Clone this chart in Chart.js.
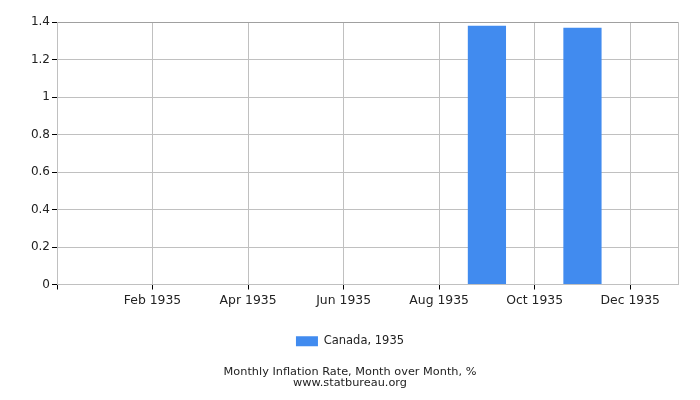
<!DOCTYPE html>
<html>
<head>
<meta charset="utf-8">
<script src="https://cdn.jsdelivr.net/npm/chart.js@4/dist/chart.umd.min.js"></script>
<style>
  html, body { margin: 0; padding: 0; background: #fff; }
  #wrap { width: 700px; height: 400px; }
</style>
</head>
<body>
<div id="wrap"><canvas id="myChart"></canvas></div>
<script>
// Chart data setup
const months = ["", "Jan 1935", "Feb 1935", "Mar 1935", "Apr 1935", "May 1935", "Jun 1935",
  "Jul 1935", "Aug 1935", "Sep 1935", "Oct 1935", "Nov 1935", "Dec 1935", ""];
const canada1935 = [null, null, null, null, null, null, null, null, null, 1.38, null, 1.37, null, null];
const yTicks = [0, 0.2, 0.4, 0.6, 0.8, 1, 1.2, 1.4];

const ctx = document.getElementById("myChart");
Chart.defaults.font.family = "DejaVu Sans";
Chart.defaults.color = "#222";

const data = {
  labels: months,
  datasets: [
    {
      label: "Canada, 1935",
      data: canada1935,
      backgroundColor: "#418bef",
      borderWidth: 0,
      categoryPercentage: 0.8,
      barPercentage: 1.0,
    },
  ],
};

// only every second month gets a gridline / label
const shown = (i) => i % 2 === 0 && i < 13;

const options = {
  responsive: true,
  maintainAspectRatio: false,
  animation: false,
  layout: {
    padding: { top: 22, right: 22, left: 22, bottom: 10 },
  },
  plugins: {
    legend: {
      position: "bottom",
      labels: {
        boxWidth: 22,
        boxHeight: 10,
        font: { size: 11.5 },
        padding: 10,
      },
    },
    title: {
      display: true,
      position: "bottom",
      text: "www.statbureau.org",
      font: { size: 11.3, weight: "normal" },
      padding: 0,
    },
    subtitle: {
      display: true,
      position: "bottom",
      text: "Monthly Inflation Rate, Month over Month, %",
      font: { size: 11.3 },
      padding: { top: 8, bottom: -2 },
    },
    tooltip: { enabled: false },
  },
  scales: {
    x: {
      offset: false,
      border: { color: "#c0c0c0" },
      grid: {
        offset: false,
        color: (c) => (shown(c.index) || c.index === 13 ? "#c0c0c0" : "rgba(0,0,0,0)"),
        tickColor: (c) => (shown(c.index) ? "#000" : "rgba(0,0,0,0)"),
        tickLength: 5,
      },
      afterFit: (axis) => {
        axis.height += 13;
      },
      ticks: {
        autoSkip: false,
        maxRotation: 0,
        font: { size: 12.4 },
        padding: 4,
        callback: (v, i) => (shown(i) ? months[i] : ""),
      },
    },
    y: {
      min: 0,
      max: 1.4,
      border: { color: "#c0c0c0" },
      grid: {
        color: (c) => (c.index === yTicks.length - 1 ? "#a0a0a0" : "#c0c0c0"),
        tickColor: "#000",
        tickLength: 5,
      },
      afterBuildTicks: (axis) => {
        axis.ticks = yTicks.map((v) => ({ value: v }));
      },
      afterFit: (axis) => {
        axis.width = 35;
      },
      ticks: {
        font: { size: 12 },
        padding: 2,
        callback: (v) => String(v),
      },
    },
  },
};

new Chart(ctx, { type: "bar", data, options });
</script>
</body>
</html>
